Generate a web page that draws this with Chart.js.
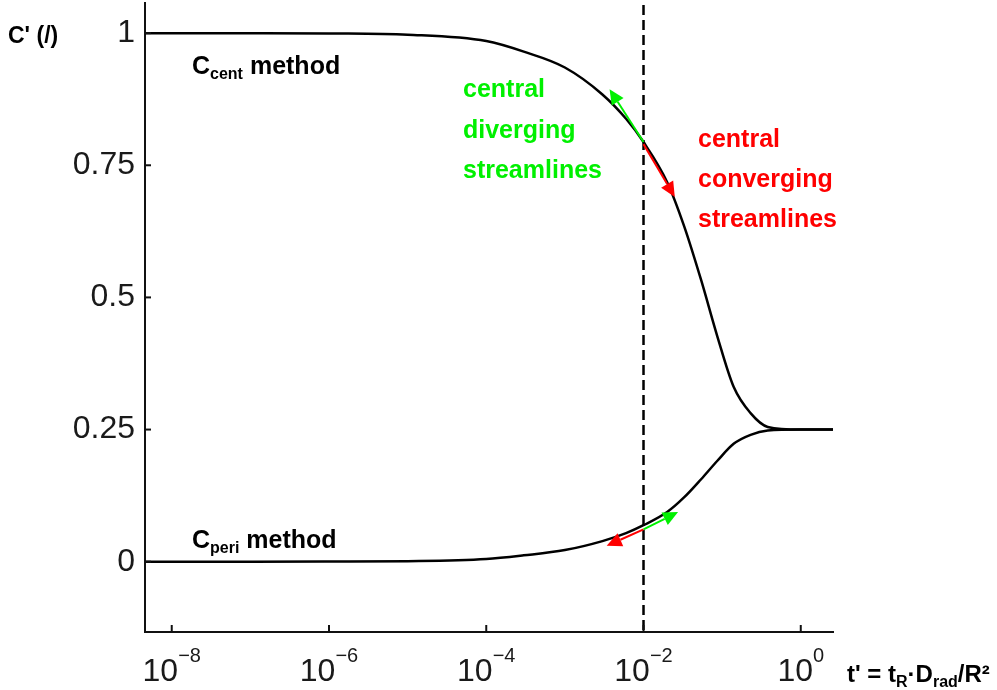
<!DOCTYPE html>
<html>
<head>
<meta charset="utf-8">
<script src="https://cdn.jsdelivr.net/npm/chart.js@4.4.0/dist/chart.umd.min.js"></script>
<style>
  html, body { margin: 0; padding: 0; background: #fff; }
  #wrap { width: 997px; height: 690px; }
</style>
</head>
<body>
<div id="wrap"><canvas id="chart" width="997" height="690"></canvas></div>
<script>
// dimensionless time t' and the two concentration curves
const tValues = [4.6e-9, 1e-8, 1e-7, 1e-6, 1e-5, 1e-4, 3e-4, 1e-3, 3e-3, 6e-3, 1e-2, 2e-2, 3.3e-2, 5.4e-2, 8.7e-2, 0.14, 0.23, 0.38, 1, 2.57];
const cCent = [1, 1, 1, 0.9995, 0.997, 0.985, 0.965, 0.935, 0.884, 0.838, 0.794, 0.718, 0.634, 0.533, 0.426, 0.331, 0.281, 0.255, 0.25, 0.25];
const cPeri = [0, 0, 0, 0.0003, 0.001, 0.005, 0.012, 0.022, 0.039, 0.054, 0.069, 0.094, 0.122, 0.156, 0.191, 0.223, 0.240, 0.248, 0.25, 0.25];

const xTicks = [1e-8, 1e-6, 1e-4, 1e-2, 1];
const xTickExp = ['\u22128', '\u22126', '\u22124', '\u22122', '0'];
const yTicks = [0, 0.25, 0.5, 0.75, 1];
const tMark = 1e-2;

// arrows along the curves at t' = 1e-2 : [t', C']
const arrowStart = [[1e-2, 0.794], [1e-2, 0.790], [1e-2, 0.061], [1e-2, 0.061]];
const arrowEnd = [[3.7e-3, 0.894], [2.5e-2, 0.690], [3.4e-3, 0.030], [2.75e-2, 0.094]];
const arrowColors = ['#00f000', '#ff0000', '#ff0000', '#00f000'];

const greenLines = ['central', 'diverging', 'streamlines'];
const redLines = ['central', 'converging', 'streamlines'];

const FONT = "'Liberation Sans', Arial, Helvetica, sans-serif";
Chart.defaults.font.family = FONT;

function drawRich(ctx, x, y, parts, color) {
  ctx.save();
  ctx.fillStyle = color;
  ctx.textBaseline = 'alphabetic';
  ctx.textAlign = 'left';
  for (const p of parts) {
    ctx.font = (p.bold === false ? '' : 'bold ') + p.size + 'px ' + FONT;
    ctx.fillText(p.text, x, y + (p.dy || 0));
    x += ctx.measureText(p.text).width;
  }
  ctx.restore();
  return x;
}

function richWidth(ctx, parts) {
  let w = 0;
  ctx.save();
  for (const p of parts) {
    ctx.font = (p.bold === false ? '' : 'bold ') + p.size + 'px ' + FONT;
    w += ctx.measureText(p.text).width;
  }
  ctx.restore();
  return w;
}

function arrow(ctx, x0, y0, x1, y1, color) {
  const ang = Math.atan2(y1 - y0, x1 - x0);
  const head = 15, half = 7;
  const bx = x1 - head * Math.cos(ang), by = y1 - head * Math.sin(ang);
  ctx.save();
  ctx.strokeStyle = color;
  ctx.lineWidth = 2;
  ctx.beginPath(); ctx.moveTo(x0, y0); ctx.lineTo(bx, by); ctx.stroke();
  ctx.fillStyle = color;
  ctx.beginPath();
  ctx.moveTo(x1, y1);
  ctx.lineTo(bx + half * Math.sin(ang), by - half * Math.cos(ang));
  ctx.lineTo(bx - half * Math.sin(ang), by + half * Math.cos(ang));
  ctx.closePath();
  ctx.fill();
  ctx.restore();
}

const decor = {
  id: 'decor',
  beforeDatasetsDraw(chart) {
    const { ctx, chartArea: a, scales: { x } } = chart;
    const px = x.getPixelForValue(tMark);
    ctx.save();
    ctx.strokeStyle = '#000';
    ctx.lineWidth = 2.5;
    ctx.setLineDash([10, 5]);
    ctx.beginPath(); ctx.moveTo(px, a.top + 2); ctx.lineTo(px, a.bottom); ctx.stroke();
    ctx.restore();
  },
  afterDraw(chart) {
    const { ctx, chartArea: a, scales: { x, y } } = chart;
    ctx.save();
    ctx.strokeStyle = '#111';
    ctx.lineWidth = 2;
    xTicks.forEach(v => {
      const px = x.getPixelForValue(v);
      ctx.beginPath(); ctx.moveTo(px, a.bottom); ctx.lineTo(px, a.bottom - 7); ctx.stroke();
    });
    yTicks.forEach(v => {
      const py = y.getPixelForValue(v);
      ctx.beginPath(); ctx.moveTo(a.left, py); ctx.lineTo(a.left + 6, py); ctx.stroke();
    });
    ctx.restore();

    // x tick labels 10^n
    xTicks.forEach((v, i) => {
      const parts = [
        { text: '10', size: 32, bold: false },
        { text: xTickExp[i], size: 20, bold: false, dy: -19 }
      ];
      const w = richWidth(ctx, parts);
      drawRich(ctx, x.getPixelForValue(v) - w / 2, 681, parts, '#1a1a1a');
    });

    // axis titles
    drawRich(ctx, 847, 682, [
      { text: "t' = t", size: 24 },
      { text: 'R', size: 16, dy: 5 },
      { text: '\u00b7D', size: 24 },
      { text: 'rad', size: 16, dy: 5 },
      { text: '/R\u00b2', size: 24 }
    ], '#000');
    drawRich(ctx, 8, 43, [{ text: "C' (/)", size: 23 }], '#000');

    // curve labels
    drawRich(ctx, 192, 74, [
      { text: 'C', size: 25 }, { text: 'cent', size: 16, dy: 5 }, { text: ' method', size: 25 }
    ], '#000');
    drawRich(ctx, 192, 548, [
      { text: 'C', size: 25 }, { text: 'peri', size: 16, dy: 5 }, { text: ' method', size: 25 }
    ], '#000');

    greenLines.forEach((s, i) => drawRich(ctx, 463, 97 + i * 40.5, [{ text: s, size: 25 }], '#00f000'));
    redLines.forEach((s, i) => drawRich(ctx, 698, 147 + i * 40, [{ text: s, size: 25 }], '#ff0000'));

    arrowStart.forEach((s, i) => {
      arrow(ctx,
        x.getPixelForValue(s[0]), y.getPixelForValue(s[1]),
        x.getPixelForValue(arrowEnd[i][0]), y.getPixelForValue(arrowEnd[i][1]),
        arrowColors[i]);
    });
  }
};

const toPoints = ys => tValues.map((t, i) => ({ x: t, y: ys[i] }));

new Chart(document.getElementById('chart'), {
  type: 'line',
  data: {
    datasets: [
      { label: 'Ccent method', data: toPoints(cCent), borderColor: '#000', borderWidth: 2.5, pointRadius: 0, fill: false, cubicInterpolationMode: 'monotone' },
      { label: 'Cperi method', data: toPoints(cPeri), borderColor: '#000', borderWidth: 2.5, pointRadius: 0, fill: false, cubicInterpolationMode: 'monotone' }
    ]
  },
  options: {
    responsive: false,
    animation: false,
    layout: { padding: { top: 3, right: 164, left: 0, bottom: 0 } },
    plugins: { legend: { display: false }, tooltip: { enabled: false } },
    scales: {
      x: {
        type: 'logarithmic',
        min: 4.57e-9,
        max: 2.57,
        afterBuildTicks: s => { s.ticks = xTicks.map(v => ({ value: v })); },
        afterFit: s => { s.height = 58; s.paddingLeft = 0; s.paddingRight = 0; },
        grid: { display: false, drawTicks: false },
        border: { display: true, color: '#111', width: 2 },
        ticks: { display: false }
      },
      y: {
        min: -0.133,
        max: 1.057,
        afterBuildTicks: s => { s.ticks = yTicks.map(v => ({ value: v })); },
        afterFit: s => { s.width = 145; s.paddingTop = 0; s.paddingBottom = 0; },
        grid: { display: false, drawTicks: false },
        border: { display: true, color: '#111', width: 2 },
        ticks: { color: '#1a1a1a', font: { size: 32, family: FONT }, padding: 10, callback: v => String(v) }
      }
    }
  },
  plugins: [decor]
});
</script>
</body>
</html>
